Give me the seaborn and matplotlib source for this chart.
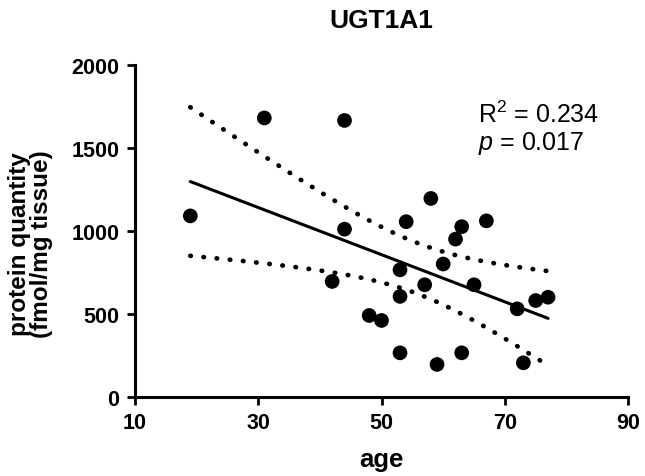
import numpy as np
import pandas as pd
import matplotlib
matplotlib.use("Agg")
import matplotlib.pyplot as plt
import seaborn as sns

sns.set_theme(style="ticks")
plt.rcParams['font.family'] = ['Liberation Sans', 'DejaVu Sans']
plt.rcParams['mathtext.fontset'] = 'custom'
plt.rcParams['mathtext.rm'] = 'Liberation Sans'
plt.rcParams['mathtext.it'] = 'Liberation Sans:italic'
plt.rcParams['mathtext.bf'] = 'Liberation Sans:bold'
for k in ['text.color', 'axes.labelcolor', 'xtick.color', 'ytick.color', 'axes.edgecolor']:
    plt.rcParams[k] = 'black'

title = "UGT1A1"
x_label = "age"
y_label = "protein quantity\n(fmol/mg tissue)"
age = [19, 31, 44, 44, 42, 48, 50, 53, 53, 53, 54, 57, 58, 59, 60, 62, 63, 63, 65, 67, 72, 73, 75, 77]
protein = [1090, 1680, 1665, 1010, 695, 490, 460, 265, 605, 765, 1055, 675, 1195, 195, 800, 950, 1025, 265, 675, 1060, 530, 205, 580, 600]
x_ticks = [10, 30, 50, 70, 90]
y_ticks = [0, 500, 1000, 1500, 2000]
stats_r2 = "0.234"
stats_p = "0.017"

df = pd.DataFrame({"age": age, "protein": protein})

# linear fit and 95% CI of the regression line
x = np.asarray(age, float)
y = np.asarray(protein, float)
n = len(x)
slope, intercept = np.polyfit(x, y, 1)
resid = y - (slope * x + intercept)
s = np.sqrt(np.sum(resid ** 2) / (n - 2))
t = 2.074  # t(0.975, df=22)
xg = np.linspace(x.min(), x.max(), 100)
yg = slope * xg + intercept
se = s * np.sqrt(1 / n + (xg - x.mean()) ** 2 / np.sum((x - x.mean()) ** 2))
fit = pd.DataFrame({"age": xg, "fit": yg, "lo": yg - t * se, "hi": yg + t * se})

fig = plt.figure(figsize=(6.45, 4.77), dpi=100)
ax = fig.add_axes([0.209, 0.166, 0.765, 0.696])

dot_style = dict(color="black", linewidth=3.4, linestyle=(0, (0.1, 2.7)), dash_capstyle="round")
sns.lineplot(data=fit, x="age", y="hi", ax=ax, **dot_style)
sns.lineplot(data=fit, x="age", y="lo", ax=ax, **dot_style)
sns.lineplot(data=fit, x="age", y="fit", ax=ax, color="black", linewidth=2.2)
sns.scatterplot(data=df, x="age", y="protein", ax=ax, color="black", s=112, edgecolor="none", zorder=5)

ax.set_xlim(10, 90)
ax.set_ylim(0, 2000)
ax.set_xticks(x_ticks)
ax.set_yticks(y_ticks)
ax.set_xticklabels([str(v) for v in x_ticks], fontsize=15.5, fontweight="bold")
ax.set_yticklabels([str(v) for v in y_ticks], fontsize=15.5, fontweight="bold")
ax.set_xlabel(x_label, fontsize=18.5, fontweight="bold")
ax.set_ylabel(y_label, fontsize=17.5, fontweight="bold", linespacing=0.95)
ax.xaxis.set_label_coords(0.5, -0.15)
ax.yaxis.set_label_coords(-0.166, 0.463)
ax.set_title(title, fontsize=19, fontweight="bold", pad=27)

for sp in ["top", "right"]:
    ax.spines[sp].set_visible(False)
for sp in ["left", "bottom"]:
    ax.spines[sp].set_linewidth(2.2)
    ax.spines[sp].set_color("black")
ax.tick_params(axis="both", width=2.0, length=6, color="black", labelcolor="black", pad=5)

ax.text(0.696, 0.828, r"R$^2$ = " + stats_r2, transform=ax.transAxes, fontsize=18, va="baseline", ha="left")
ax.text(0.696, 0.747, r"$p$ = " + stats_p, transform=ax.transAxes, fontsize=18, va="baseline", ha="left")

fig.savefig("out.png", dpi=100)
